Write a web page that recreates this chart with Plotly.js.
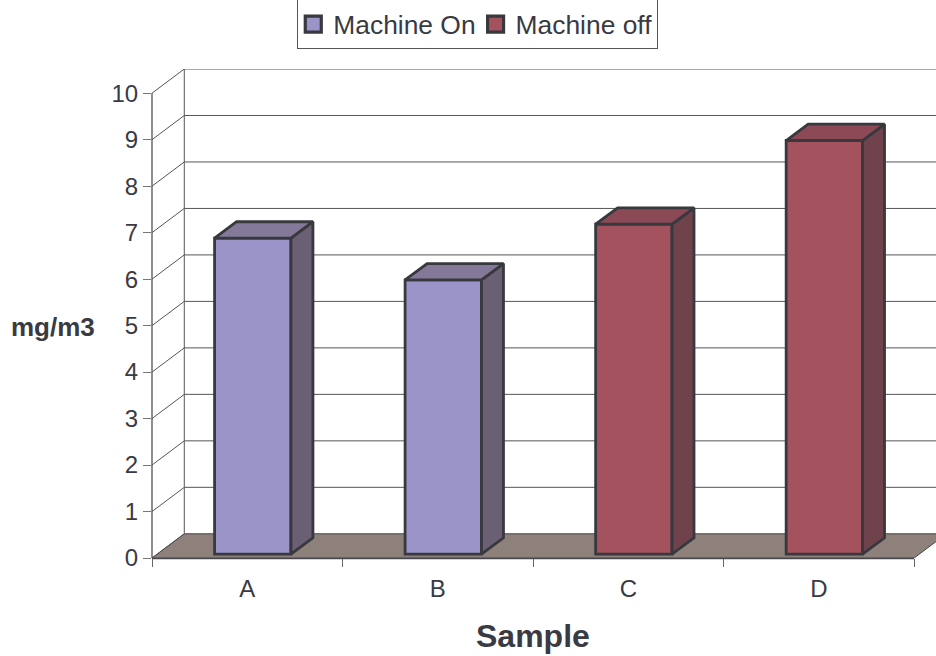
<!DOCTYPE html>
<html><head><meta charset="utf-8">
<script src="https://cdn.plot.ly/plotly-3.0.1.min.js"></script>
<style>html,body{margin:0;padding:0;background:#fff}</style></head>
<body><div id="chart" style="width:936px;height:656px"></div>
<script>
// Data
const categories = ['A','B','C','D'];
const machineOnCats = [0,1];
const machineOnValues = [6.8,5.9];
const machineOffCats = [2,3];
const machineOffValues = [7.1,8.9];
const yTicks = [0,1,2,3,4,5,6,7,8,9,10];
const xBoundaries = [0,1,2,3,4];

// Styling + 3D projection constants (data units)
const font = 'Liberation Sans, Arial, sans-serif';
const ink = '#3a3a42';
const edge = '#38383f';
const wallLine = '#555555';
const pxX = 190.6, pxY = 46.5;
const xMax = (936-151.7)/pxX, yMax = (558.5-69.3)/pxY;
const wallDx = 32.3/pxX, wallDy = 24.2/pxY;
const barDx = 22/pxX, barDy = 16.4/pxY;
const barW = 76.4/pxX, barShift = 5.5/pxX, barBase = 3.8/pxY;
const barEdge = 2.8;

const onC = {front:'#9b94c9', side:'#6b5f73', top:'#857999'};
const offC = {front:'#a5525f', side:'#70434c', top:'#8b4a56'};

function barTrace(name, cats, vals, c){
  return {type:'bar', name, showlegend:false, x:cats.map(i=>i+0.5+barShift), y:vals, base:vals.map(()=>barBase),
    width:vals.map(()=>barW), marker:{color:c.front, line:{color:edge,width:barEdge}}, hoverinfo:'y'};
}
function legendKey(name, c){
  return {type:'scatter',mode:'markers',name,x:[null],y:[null],
    marker:{symbol:'square',size:16,color:c.front,line:{color:edge,width:3.2}}};
}
function faces(cats, vals, c){
  const out=[];
  cats.forEach((cat,k)=>{
    const l=cat+0.5+barShift-barW/2, r=l+barW, b=barBase, t=barBase+vals[k];
    out.push({type:'scatter',mode:'lines',fill:'toself',fillcolor:c.side,showlegend:false,hoverinfo:'skip',
      line:{color:edge,width:barEdge},
      x:[r,r+barDx,r+barDx,r,r], y:[b,b+barDy,t+barDy,t,b]});
    out.push({type:'scatter',mode:'lines',fill:'toself',fillcolor:c.top,showlegend:false,hoverinfo:'skip',
      line:{color:edge,width:barEdge},
      x:[l,l+barDx,r+barDx,r,l], y:[t,t+barDy,t+barDy,t,t]});
  });
  return out;
}
const traces=[
  barTrace('Machine On',machineOnCats,machineOnValues,onC),
  barTrace('Machine off',machineOffCats,machineOffValues,offC),
  ...faces(machineOnCats,machineOnValues,onC),
  ...faces(machineOffCats,machineOffValues,offC),
  legendKey('Machine On',onC),
  legendKey('Machine off',offC)
];

const shapes=[];
// floor
shapes.push({type:'path',layer:'below',xref:'x',yref:'y',fillcolor:'#8e817b',
  line:{color:'#444',width:1},
  path:`M0,0 L${wallDx},${wallDy} L${4+wallDx},${wallDy} L4,0 Z`});
// wall gridlines with left-wall diagonals
yTicks.forEach(v=>{
  shapes.push({type:'line',layer:'below',xref:'x',yref:'y',x0:0,y0:v,x1:wallDx,y1:v+wallDy,line:{color:wallLine,width:1}});
  if(v>0) shapes.push({type:'line',layer:'below',xref:'x',yref:'y',x0:wallDx,y0:v+wallDy,x1:xMax,y1:v+wallDy,line:{color:wallLine,width:1}});
});
// back wall left edge
shapes.push({type:'line',layer:'below',xref:'x',yref:'y',x0:wallDx,y0:wallDy,x1:wallDx,y1:yMax,line:{color:wallLine,width:1}});
// front vertical axis and front floor edge
shapes.push({type:'line',layer:'below',xref:'paper',yref:'y',x0:0,y0:-0.17,x1:0,y1:10,line:{color:'#444',width:1.2}});
shapes.push({type:'line',layer:'below',xref:'x',yref:'paper',x0:0,y0:0,x1:4,y1:0,line:{color:'#48484e',width:2.5}});

const layout={
  width:936,height:656,autosize:false,
  margin:{l:151.7,r:0,t:69.3,b:97.5,pad:0,autoexpand:false},
  paper_bgcolor:'#fff',plot_bgcolor:'#fff',
  barmode:'overlay',
  font:{family:font,color:ink,size:24},
  showlegend:true,
  legend:{orientation:'h',x:0.1853,xanchor:'left',y:1.04,yanchor:'bottom',indentation:-5,
    bgcolor:'#fff',bordercolor:'#555',borderwidth:1,font:{size:26.4,color:ink},itemwidth:30},
  xaxis:{range:[0,xMax],showgrid:false,zeroline:false,showline:false,automargin:false,
    tickvals:categories.map((_,i)=>i+0.5),ticktext:categories,ticks:'',
    tickfont:{size:24,color:ink},ticklabelstandoff:14,
    minor:{tickvals:xBoundaries,ticks:'outside',ticklen:8,tickcolor:'#666',tickwidth:1}},
  yaxis:{range:[0,yMax],showgrid:false,zeroline:false,showline:false,automargin:false,
    tickvals:yTicks,ticks:'outside',ticklen:8,tickcolor:'#777',tickwidth:1,
    tickfont:{size:24,color:ink}},
  shapes,
  annotations:[
    {text:'<b>mg/m3</b>',xref:'paper',yref:'y',x:-0.1265,y:4.98,showarrow:false,xanchor:'center',yanchor:'middle',font:{size:26,color:ink}},
    {text:'<b>Sample</b>',xref:'x',yref:'paper',x:2,y:0,yshift:-78,showarrow:false,xanchor:'center',yanchor:'middle',font:{size:32,color:ink}}
  ]
};
Plotly.newPlot('chart',traces,layout,{displayModeBar:false,staticPlot:true});
</script></body></html>
